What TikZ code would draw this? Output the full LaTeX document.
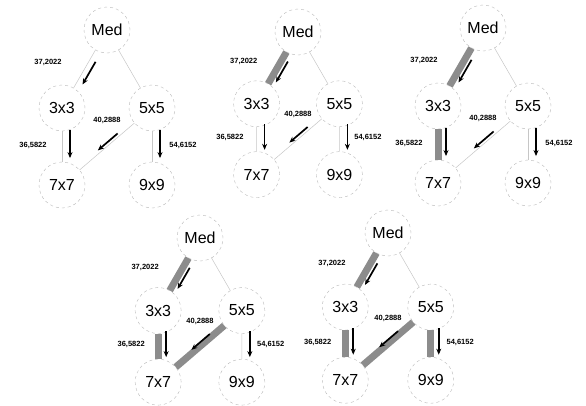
\documentclass[tikz,border=0pt]{standalone}
\usepackage{fontspec}
\setmainfont{Liberation Sans}
\usetikzlibrary{calc,arrows.meta}

\tikzset{
  state/.style={circle, draw=gray!55, dashed, fill=white, minimum size=46pt, inner sep=0pt, font=\fontsize{16}{16}\selectfont},
  link/.style={gray!45, line width=0.5pt},
  chosen/.style={gray!90, line width=7pt},
  flow/.style={-{Stealth[length=6pt,width=5pt]}, line width=1.7pt},
  weight/.style={font=\fontsize{7.5}{7.5}\selectfont\bfseries, inner sep=1pt},
}

\begin{document}
\begin{tikzpicture}[x=1pt, y=1pt]
  \useasboundingbox (0,0) rectangle (586,-405);

  % the five copies of the tree
  \foreach \i/\x/\y/\s in {1/107/30/1, 2/298/32/0.92, 3/483/28/1, 4/200/238/0.93, 5/388/233/0.95} {
    \begin{scope}[shift={(\x,-\y)}, scale=\s]
      \node[state] (med\i) at (0,0) {Med};
      \node[state] (a\i) at (-45,-78) {3x3};
      \node[state] (b\i) at (45,-78) {5x5};
      \node[state] (c\i) at (-45,-155) {7x7};
      \node[state] (d\i) at (45,-155) {9x9};
      \draw[link] (med\i) -- (a\i);
      \draw[link] (med\i) -- (b\i);
      \draw[link] (a\i) -- (c\i);
      \draw[link] (b\i) -- (c\i);
      \draw[link] (b\i) -- (d\i);
    \end{scope}
  }

  % edges picked so far
  \draw[chosen] (med2) -- (a2);
  \draw[chosen] (med3) -- (a3);
  \draw[chosen] (a3) -- (c3);
  \draw[chosen] (med4) -- (a4);
  \draw[chosen] (a4) -- (c4);
  \draw[chosen] (b4) -- (c4);
  \draw[chosen] (med5) -- (a5);
  \draw[chosen] (a5) -- (c5);
  \draw[chosen] (b5) -- (c5);
  \draw[chosen] (b5) -- (d5);

  % direction arrows and weights
  \foreach \i/\x/\y/\s in {1/107/30/1, 2/298/32/0.92, 3/483/28/1, 4/200/238/0.93, 5/388/233/0.95} {
    \draw[flow] ($(med\i)!0.37!(a\i)!6pt!90:(a\i)$) -- ($(med\i)!0.66!(a\i)!6pt!90:(a\i)$);
    \draw[flow] ($(a\i)!0.29!(c\i)!8pt!90:(c\i)$) -- ($(a\i)!0.65!(c\i)!8pt!90:(c\i)$);
    \draw[flow] ($(b\i)!0.36!(c\i)!-3pt!90:(c\i)$) -- ($(b\i)!0.58!(c\i)!-3pt!90:(c\i)$);
    \draw[flow] ($(b\i)!0.29!(d\i)!8pt!90:(d\i)$) -- ($(b\i)!0.65!(d\i)!8pt!90:(d\i)$);
    \begin{scope}[shift={(\x,-\y)}, scale=\s]
      \node[weight] (w1\i) at (-59,-32) {37,2022};
      \node[weight] (w2\i) at (-74,-115) {36,5822};
      \node[weight] (w3\i) at (0,-90) {40,2888};
      \node[weight] (w4\i) at (76,-115) {54,6152};
    \end{scope}
  }
\end{tikzpicture}
\end{document}
